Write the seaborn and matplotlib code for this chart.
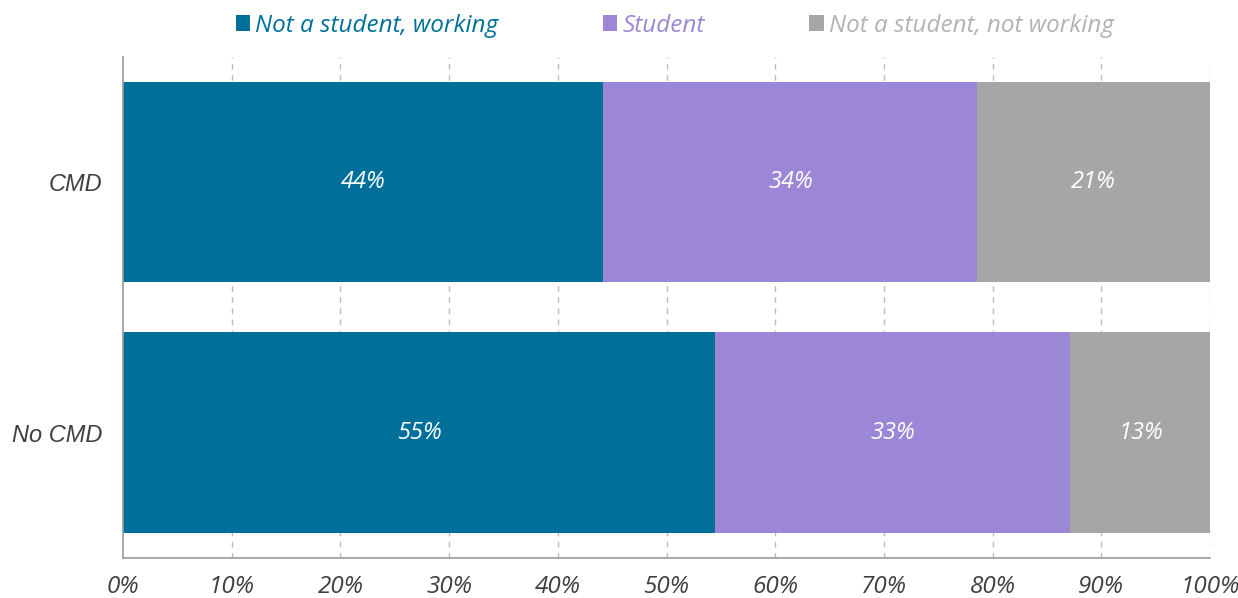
import numpy as np
import pandas as pd
import seaborn as sns
import matplotlib.pyplot as plt
from matplotlib.patches import Patch

groups = ['CMD', 'No CMD']
categories = ['Not a student, working', 'Student', 'Not a student, not working']
working = [44.2, 54.5]
student = [34.4, 32.6]
not_working = [21.4, 13.0]
labels = [['44%', '34%', '21%'], ['55%', '33%', '13%']]
colors = ['#006F9A', '#9B87D6', '#A6A6A6']
text_colors = ['#00709A', '#9B87D6', '#B3B3B3']

sns.set_style('white')
plt.rcParams['font.family'] = ['Open Sans', 'DejaVu Sans']

df = pd.DataFrame({'group': groups, 'w': working, 's': student, 'n': not_working})
df['c1'] = df['w']
df['c2'] = df['w'] + df['s']
df['c3'] = df['w'] + df['s'] + df['n']

fig = plt.figure(figsize=(12.38, 5.98), dpi=100)
ax = fig.add_axes([0.0994, 0.0669, 0.878, 0.838])

ax.set_axisbelow(True)
for x in range(10, 101, 10):
    ax.axvline(x, color='#BBBBBB', lw=1, ls=(0, (4, 4)), zorder=0)

# stack by drawing cumulative totals, largest first
for col, c in zip(['c3', 'c2', 'c1'], colors[::-1]):
    sns.barplot(data=df, x=col, y='group', color=c, orient='h', width=0.8,
                saturation=1, linewidth=0, ax=ax, zorder=2)

for i in range(len(groups)):
    starts = [0, df['c1'][i], df['c2'][i]]
    widths = [df['w'][i], df['s'][i], df['n'][i]]
    for j in range(3):
        ax.text(starts[j] + widths[j] / 2, i, labels[i][j], color='white',
                ha='center', va='center', fontsize=17, style='italic', zorder=3)

ax.set_xlim(0, 100)
ax.set_ylim(1.5, -0.5)
ax.set_xticks(range(0, 101, 10))
ax.set_xticklabels([f'{x}%' for x in range(0, 101, 10)], fontsize=17.5,
                   style='italic', color='#404040')
ax.set_yticks([0, 1])
ax.set_yticklabels(groups, fontsize=17, style='italic', color='#404040',
                   family=['Liberation Sans', 'DejaVu Sans'])
ax.tick_params(axis='x', pad=12, length=0)
ax.tick_params(axis='y', pad=15, length=0)
ax.set_xlabel('')
ax.set_ylabel('')
sns.despine(ax=ax, top=True, right=True)
for s in ['left', 'bottom']:
    ax.spines[s].set_color('#999999')
    ax.spines[s].set_linewidth(1.2)

handles = [Patch(facecolor=c, edgecolor='none') for c in colors]
leg = fig.legend(handles, categories, loc='center', bbox_to_anchor=(0.545, 0.957),
                 ncol=3, frameon=False, fontsize=17.5, handlelength=0.6,
                 handleheight=0.6, handletextpad=0.2, columnspacing=4.3)
for t, c in zip(leg.get_texts(), text_colors):
    t.set_color(c)
    t.set_style('italic')

fig.savefig('out.png', dpi=100)
